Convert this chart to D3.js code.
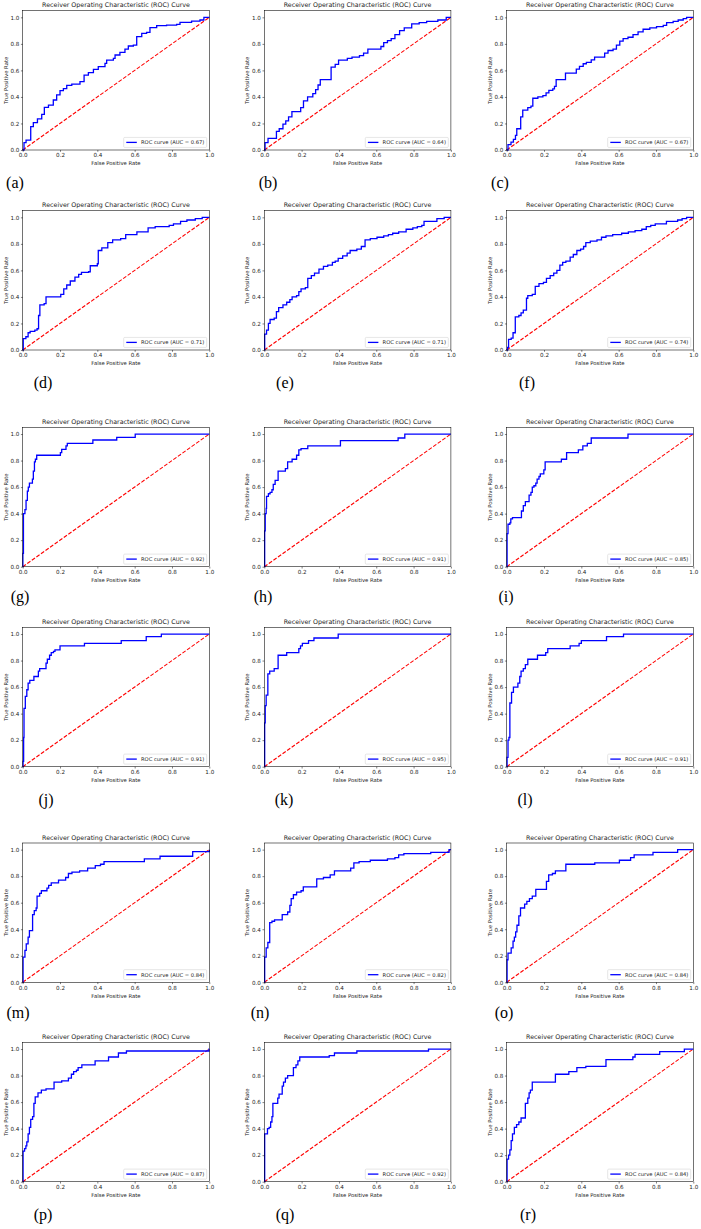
<!DOCTYPE html>
<html>
<head>
<meta charset="utf-8">
<script src="https://cdn.jsdelivr.net/npm/d3@7"></script>
<style>
  body { margin: 0; background: #fff; }
  svg { display: block; }
  .tick text { font-family: "DejaVu Sans", sans-serif; font-size: 5.6px; fill: #222; }
  .tick line { stroke: #000; stroke-width: 0.5; }
</style>
</head>
<body>
<svg id="chart"></svg>
<script>
// panel captions and AUC values, in reading order (a) .. (r)
const panelLabels = ["(a)", "(b)", "(c)", "(d)", "(e)", "(f)", "(g)", "(h)", "(i)",
  "(j)", "(k)", "(l)", "(m)", "(n)", "(o)", "(p)", "(q)", "(r)"];
const aucValues = [0.67, 0.64, 0.67, 0.71, 0.71, 0.74, 0.92, 0.91, 0.85,
  0.91, 0.95, 0.91, 0.84, 0.82, 0.84, 0.87, 0.92, 0.84];
const xTicks = [0, 0.2, 0.4, 0.6, 0.8, 1.0];
const yTicks = [0, 0.2, 0.4, 0.6, 0.8, 1.0];

// ROC points [fpr, tpr] (step after each point)
const curveA = [[0,0],[0.007,0.055],[0.018,0.075],[0.043,0.176],[0.057,0.206],[0.079,0.234],[0.102,0.269],[0.116,0.322],[0.138,0.339],[0.164,0.377],[0.182,0.415],[0.2,0.447],[0.218,0.462],[0.236,0.487],[0.263,0.497],[0.307,0.515],[0.329,0.565],[0.352,0.583],[0.379,0.608],[0.405,0.628],[0.441,0.653],[0.45,0.678],[0.486,0.691],[0.495,0.716],[0.521,0.736],[0.548,0.761],[0.566,0.784],[0.593,0.791],[0.611,0.854],[0.638,0.879],[0.664,0.887],[0.682,0.922],[0.718,0.937],[0.771,0.942],[0.825,0.947],[0.843,0.962],[0.905,0.972],[0.95,0.98],[0.971,1],[1,1]];
const curveB = [[0,0],[0.004,0.055],[0.02,0.088],[0.065,0.14],[0.08,0.16],[0.1,0.195],[0.115,0.22],[0.13,0.25],[0.148,0.29],[0.195,0.32],[0.21,0.37],[0.232,0.4],[0.26,0.425],[0.275,0.455],[0.288,0.49],[0.3,0.53],[0.358,0.625],[0.38,0.645],[0.398,0.678],[0.445,0.69],[0.47,0.7],[0.51,0.712],[0.532,0.73],[0.555,0.76],[0.625,0.78],[0.64,0.81],[0.66,0.825],[0.68,0.84],[0.7,0.87],[0.725,0.9],[0.75,0.92],[0.79,0.95],[0.83,0.96],[0.87,0.97],[0.93,0.98],[0.975,1],[1,1]];
const curveC = [[0,0],[0.007,0.04],[0.023,0.06],[0.036,0.08],[0.047,0.11],[0.054,0.16],[0.075,0.25],[0.086,0.3],[0.113,0.32],[0.13,0.33],[0.14,0.39],[0.167,0.4],[0.194,0.41],[0.211,0.43],[0.226,0.45],[0.247,0.46],[0.256,0.48],[0.265,0.53],[0.315,0.58],[0.373,0.61],[0.39,0.63],[0.41,0.65],[0.427,0.66],[0.453,0.68],[0.471,0.7],[0.525,0.73],[0.543,0.75],[0.57,0.76],[0.588,0.79],[0.606,0.82],[0.624,0.84],[0.65,0.85],[0.677,0.87],[0.704,0.89],[0.731,0.91],[0.767,0.92],[0.803,0.93],[0.839,0.94],[0.857,0.96],[0.892,0.97],[0.919,0.98],[0.946,0.99],[0.964,1],[1,1]];
const curveD = [[0,0],[0.003,0.085],[0.017,0.1],[0.029,0.13],[0.04,0.14],[0.065,0.15],[0.077,0.16],[0.085,0.26],[0.092,0.34],[0.115,0.35],[0.125,0.4],[0.204,0.42],[0.22,0.46],[0.236,0.49],[0.255,0.52],[0.28,0.55],[0.3,0.57],[0.315,0.585],[0.353,0.59],[0.362,0.635],[0.4,0.65],[0.405,0.75],[0.424,0.77],[0.456,0.81],[0.482,0.83],[0.525,0.84],[0.552,0.87],[0.612,0.89],[0.672,0.92],[0.71,0.93],[0.785,0.94],[0.808,0.95],[0.846,0.97],[0.88,0.98],[0.925,0.99],[0.962,1],[1,1]];
const curveE = [[0,0],[0.002,0.12],[0.012,0.15],[0.022,0.2],[0.031,0.23],[0.053,0.24],[0.065,0.29],[0.077,0.32],[0.1,0.34],[0.12,0.36],[0.137,0.38],[0.149,0.4],[0.173,0.41],[0.185,0.44],[0.197,0.46],[0.22,0.47],[0.233,0.54],[0.252,0.56],[0.269,0.58],[0.293,0.61],[0.317,0.63],[0.34,0.64],[0.365,0.66],[0.38,0.67],[0.396,0.69],[0.42,0.71],[0.444,0.73],[0.46,0.75],[0.496,0.76],[0.52,0.78],[0.54,0.83],[0.568,0.84],[0.604,0.85],[0.64,0.86],[0.665,0.87],[0.688,0.88],[0.72,0.89],[0.76,0.91],[0.796,0.92],[0.82,0.93],[0.844,0.94],[0.856,0.97],[0.925,0.99],[0.964,1],[1,1]];
const curveF = [[0,0],[0.005,0.02],[0.01,0.08],[0.024,0.09],[0.034,0.13],[0.046,0.25],[0.065,0.26],[0.077,0.28],[0.089,0.3],[0.106,0.39],[0.113,0.41],[0.137,0.42],[0.153,0.48],[0.173,0.5],[0.197,0.51],[0.213,0.54],[0.233,0.56],[0.252,0.58],[0.269,0.6],[0.285,0.64],[0.3,0.66],[0.317,0.67],[0.34,0.7],[0.357,0.72],[0.376,0.75],[0.396,0.76],[0.412,0.78],[0.424,0.81],[0.448,0.82],[0.484,0.83],[0.508,0.85],[0.532,0.86],[0.568,0.87],[0.616,0.88],[0.652,0.89],[0.688,0.9],[0.724,0.91],[0.748,0.93],[0.772,0.94],[0.796,0.95],[0.856,0.97],[0.916,0.98],[0.94,0.99],[0.964,1],[1,1]];
const curveG = [[0,0],[0.001,0.1],[0.004,0.4],[0.012,0.43],[0.018,0.5],[0.025,0.57],[0.03,0.6],[0.036,0.63],[0.052,0.66],[0.057,0.72],[0.063,0.79],[0.068,0.81],[0.075,0.84],[0.202,0.86],[0.209,0.885],[0.232,0.91],[0.239,0.93],[0.376,0.955],[0.504,0.975],[0.603,1],[1,1]];
const curveH = [[0,0],[0.002,0.27],[0.005,0.4],[0.01,0.44],[0.012,0.53],[0.022,0.55],[0.031,0.56],[0.041,0.58],[0.048,0.62],[0.058,0.65],[0.074,0.72],[0.113,0.74],[0.125,0.79],[0.149,0.81],[0.173,0.84],[0.185,0.88],[0.197,0.89],[0.233,0.91],[0.408,0.95],[0.717,0.97],[0.753,1],[1,1]];
const curveI = [[0,0],[0.002,0.25],[0.007,0.32],[0.017,0.33],[0.022,0.36],[0.031,0.37],[0.079,0.42],[0.089,0.46],[0.1,0.49],[0.12,0.54],[0.13,0.56],[0.137,0.6],[0.146,0.61],[0.156,0.63],[0.163,0.66],[0.173,0.68],[0.18,0.7],[0.199,0.73],[0.206,0.79],[0.293,0.81],[0.321,0.86],[0.384,0.88],[0.408,0.91],[0.432,0.93],[0.453,0.97],[0.65,1],[1,1]];
const curveJ = [[0,0],[0.002,0.04],[0.005,0.22],[0.007,0.44],[0.014,0.53],[0.022,0.58],[0.029,0.63],[0.038,0.65],[0.06,0.68],[0.084,0.72],[0.091,0.74],[0.125,0.78],[0.132,0.81],[0.144,0.84],[0.153,0.86],[0.165,0.87],[0.173,0.88],[0.2,0.91],[0.331,0.93],[0.528,0.95],[0.662,0.98],[0.743,1],[1,1]];
const curveK = [[0,0],[0.002,0.33],[0.005,0.46],[0.01,0.54],[0.019,0.7],[0.029,0.72],[0.053,0.74],[0.074,0.84],[0.12,0.86],[0.185,0.89],[0.194,0.91],[0.204,0.93],[0.237,0.95],[0.266,0.97],[0.396,1],[1,1]];
const curveL = [[0,0],[0.002,0.07],[0.007,0.2],[0.012,0.22],[0.017,0.48],[0.026,0.56],[0.036,0.6],[0.06,0.63],[0.07,0.68],[0.077,0.72],[0.089,0.74],[0.1,0.77],[0.113,0.81],[0.165,0.84],[0.209,0.86],[0.22,0.89],[0.34,0.91],[0.388,0.93],[0.4,0.95],[0.535,0.98],[0.626,1],[1,1]];
const curveM = [[0,0],[0.002,0.19],[0.012,0.24],[0.019,0.29],[0.029,0.34],[0.036,0.39],[0.053,0.51],[0.062,0.54],[0.072,0.56],[0.077,0.65],[0.091,0.67],[0.1,0.69],[0.13,0.71],[0.139,0.73],[0.153,0.75],[0.192,0.77],[0.23,0.79],[0.245,0.82],[0.264,0.83],[0.305,0.84],[0.348,0.86],[0.389,0.88],[0.417,0.89],[0.436,0.91],[0.652,0.93],[0.736,0.95],[0.911,0.985],[1,1]];
const curveN = [[0,0],[0.002,0.19],[0.01,0.26],[0.019,0.3],[0.029,0.45],[0.041,0.46],[0.055,0.47],[0.096,0.51],[0.125,0.53],[0.137,0.58],[0.144,0.63],[0.156,0.66],[0.173,0.68],[0.197,0.69],[0.209,0.72],[0.281,0.78],[0.317,0.79],[0.353,0.81],[0.376,0.84],[0.463,0.86],[0.48,0.9],[0.508,0.91],[0.568,0.92],[0.66,0.93],[0.7,0.94],[0.72,0.96],[0.748,0.97],[0.892,0.98],[0.99,1],[1,1]];
const curveO = [[0,0],[0.002,0.17],[0.007,0.22],[0.024,0.26],[0.034,0.31],[0.041,0.34],[0.048,0.38],[0.055,0.43],[0.065,0.5],[0.074,0.56],[0.096,0.59],[0.108,0.61],[0.122,0.63],[0.137,0.65],[0.156,0.7],[0.213,0.76],[0.225,0.81],[0.245,0.82],[0.261,0.84],[0.317,0.89],[0.472,0.9],[0.604,0.92],[0.664,0.94],[0.683,0.96],[0.784,0.98],[0.916,1],[1,1]];
const curveP = [[0,0],[0.002,0.23],[0.01,0.25],[0.017,0.27],[0.022,0.3],[0.029,0.36],[0.036,0.41],[0.043,0.47],[0.053,0.49],[0.06,0.59],[0.067,0.64],[0.082,0.67],[0.1,0.69],[0.125,0.7],[0.168,0.75],[0.209,0.76],[0.245,0.78],[0.261,0.81],[0.273,0.83],[0.288,0.84],[0.297,0.86],[0.317,0.88],[0.388,0.91],[0.46,0.94],[0.513,0.97],[0.556,0.985],[0.998,1],[1,1]];
const curveQ = [[0,0],[0.002,0.36],[0.017,0.4],[0.026,0.41],[0.034,0.45],[0.041,0.49],[0.046,0.59],[0.072,0.63],[0.079,0.66],[0.096,0.72],[0.103,0.75],[0.113,0.78],[0.125,0.8],[0.156,0.86],[0.17,0.88],[0.18,0.91],[0.19,0.94],[0.348,0.95],[0.376,0.97],[0.496,0.985],[0.88,1],[1,1]];
const curveR = [[0,0],[0.002,0.17],[0.01,0.2],[0.017,0.24],[0.024,0.31],[0.031,0.36],[0.041,0.41],[0.053,0.43],[0.065,0.45],[0.077,0.48],[0.1,0.59],[0.113,0.63],[0.12,0.67],[0.127,0.69],[0.137,0.75],[0.261,0.81],[0.333,0.83],[0.376,0.86],[0.424,0.87],[0.532,0.92],[0.676,0.94],[0.688,0.96],[0.82,0.98],[0.952,1],[1,1]];

const curves = [curveA, curveB, curveC, curveD, curveE, curveF, curveG, curveH, curveI,
  curveJ, curveK, curveL, curveM, curveN, curveO, curveP, curveQ, curveR];

// page layout
const width = 701, height = 1229;
const colLeft = [22.7, 264.3, 506.7];
const rowBottom = [150, 350, 566.7, 766.7, 982.3, 1181.7];
const captionX = [[15, 268, 500], [43, 285, 527], [20, 263, 506],
  [46, 284, 525], [18, 260, 504], [43, 285, 528]];
const captionY = [183, 383, 597, 800, 1013, 1215];
const plotW = 186.6, plotH = 139.3;

const svg = d3.select("#chart").attr("width", width).attr("height", height);

const x = d3.scaleLinear().domain([0, 1]).range([0, plotW]);
const y = d3.scaleLinear().domain([0, 1.05]).range([plotH, 0]);

const rocLine = d3.line()
  .x((d) => x(d[0]))
  .y((d) => y(d[1]))
  .curve(d3.curveStepAfter);

for (let i = 0; i < curves.length; i++) {
  const row = Math.floor(i / 3), col = i % 3;
  const g = svg.append("g")
    .attr("transform", `translate(${colLeft[col]}, ${rowBottom[row] - plotH})`);

  // chance line
  g.append("line")
    .attr("x1", x(0)).attr("y1", y(0))
    .attr("x2", x(1)).attr("y2", y(1))
    .attr("stroke", "red")
    .attr("stroke-width", 1.1)
    .attr("stroke-dasharray", "3.9,1.7");

  g.append("path")
    .datum(curves[i])
    .attr("d", rocLine)
    .attr("fill", "none")
    .attr("stroke", "blue")
    .attr("stroke-width", 1.3);

  g.append("g")
    .attr("transform", `translate(0, ${plotH})`)
    .call(d3.axisBottom(x).tickValues(xTicks).tickFormat(d3.format(".1f"))
      .tickSize(1.8).tickPadding(1.6))
    .call((a) => a.select(".domain").remove());

  g.append("g")
    .call(d3.axisLeft(y).tickValues(yTicks).tickFormat(d3.format(".1f"))
      .tickSize(1.8).tickPadding(1.6))
    .call((a) => a.select(".domain").remove());

  g.append("rect")
    .attr("width", plotW).attr("height", plotH)
    .attr("fill", "none")
    .attr("stroke", "#000")
    .attr("stroke-width", 0.55);

  g.append("text")
    .attr("x", plotW / 2).attr("y", -3.3)
    .attr("text-anchor", "middle")
    .attr("font-family", "DejaVu Sans")
    .attr("font-size", 6.3)
    .attr("fill", "#222")
    .text("Receiver Operating Characteristic (ROC) Curve");

  g.append("text")
    .attr("x", plotW / 2).attr("y", plotH + 15.2)
    .attr("text-anchor", "middle")
    .attr("font-family", "DejaVu Sans")
    .attr("font-size", 5.3)
    .attr("fill", "#222")
    .text("False Positive Rate");

  g.append("text")
    .attr("transform", `translate(-15, ${plotH / 2}) rotate(-90)`)
    .attr("text-anchor", "middle")
    .attr("font-family", "DejaVu Sans")
    .attr("font-size", 5.3)
    .attr("fill", "#222")
    .text("True Positive Rate");

  // legend, lower right
  const lw = 83, lh = 10;
  const legend = g.append("g")
    .attr("transform", `translate(${plotW - 2.6 - lw}, ${plotH - 2.6 - lh})`);
  legend.append("rect")
    .attr("width", lw).attr("height", lh).attr("rx", 1)
    .attr("fill", "#fff").attr("fill-opacity", 0.8)
    .attr("stroke", "#ccc").attr("stroke-width", 0.5);
  legend.append("line")
    .attr("x1", 2.6).attr("x2", 13.1)
    .attr("y1", lh / 2).attr("y2", lh / 2)
    .attr("stroke", "blue").attr("stroke-width", 1.3);
  legend.append("text")
    .attr("x", 17.3).attr("y", lh / 2 + 1.9)
    .attr("font-family", "DejaVu Sans")
    .attr("font-size", 5.2)
    .attr("fill", "#222")
    .text(`ROC curve (AUC = ${aucValues[i].toFixed(2)})`);

  svg.append("text")
    .attr("x", captionX[row][col]).attr("y", captionY[row] + 5)
    .attr("text-anchor", "middle")
    .attr("font-family", "Liberation Serif, serif")
    .attr("font-size", 16)
    .text(panelLabels[i]);
}
</script>
</body>
</html>
